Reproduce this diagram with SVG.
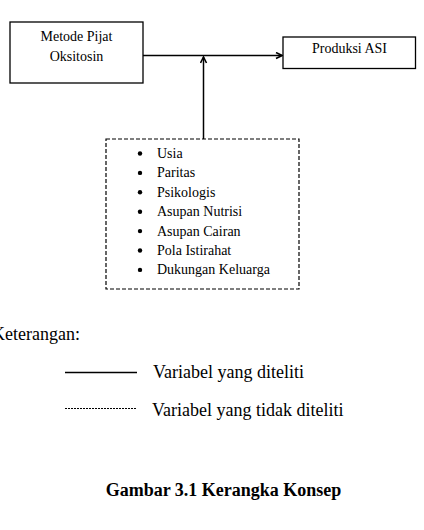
<svg xmlns="http://www.w3.org/2000/svg" width="424" height="530" viewBox="0 0 424 530">
  <defs>
    <style>
      .box { fill: #ffffff; stroke: #000000; stroke-width: 1.3; }
      .dbox { fill: #ffffff; stroke: #000000; stroke-width: 1.2; stroke-dasharray: 4 2; }
      .node-text { font-family: "Liberation Serif", "Times New Roman", serif; font-size: 14px; fill: #000000; }
      .legend-text { font-family: "Liberation Serif", "Times New Roman", serif; font-size: 18px; fill: #000000; }
      .title { font-family: "Liberation Serif", "Times New Roman", serif; font-size: 18px; font-weight: bold; fill: #000000; }
      .conn { stroke: #000000; stroke-width: 1.5; fill: none; }
      .bullet { fill: #000000; }
    </style>
    <marker id="arrow" viewBox="0 0 8 8" refX="7" refY="4" markerWidth="8" markerHeight="8" markerUnits="userSpaceOnUse" orient="auto">
      <path d="M1,1 L7,4 L1,7" fill="none" stroke="#000000" stroke-width="1.6"/>
    </marker>
  </defs>
  <rect width="424" height="530" fill="#ffffff"/>

  <g id="connectors">
    <line class="conn" x1="143" y1="55.5" x2="282" y2="55.5" marker-end="url(#arrow)"/>
    <line class="conn" x1="203.5" y1="139" x2="203.5" y2="57" marker-end="url(#arrow)"/>
  </g>

  <g id="node-metode">
    <rect class="box" x="10" y="22" width="133" height="61"/>
    <text class="node-text" x="76.5" y="41" text-anchor="middle">Metode Pijat</text>
    <text class="node-text" x="76.5" y="61" text-anchor="middle">Oksitosin</text>
  </g>

  <g id="node-produksi">
    <rect class="box" x="283" y="37" width="132.5" height="31.5"/>
    <text class="node-text" x="349.5" y="53" text-anchor="middle">Produksi ASI</text>
  </g>

  <g id="node-faktor">
    <rect class="dbox" x="106" y="139" width="193" height="150"/>
    <g class="node-text">
      <circle class="bullet" cx="140" cy="153.5" r="2.2"/>
      <text x="157" y="158">Usia</text>
      <circle class="bullet" cx="140" cy="172.9" r="2.2"/>
      <text x="157" y="177.4">Paritas</text>
      <circle class="bullet" cx="140" cy="192.3" r="2.2"/>
      <text x="157" y="196.8">Psikologis</text>
      <circle class="bullet" cx="140" cy="211.7" r="2.2"/>
      <text x="157" y="216.2">Asupan Nutrisi</text>
      <circle class="bullet" cx="140" cy="231.1" r="2.2"/>
      <text x="157" y="235.6">Asupan Cairan</text>
      <circle class="bullet" cx="140" cy="250.5" r="2.2"/>
      <text x="157" y="255">Pola Istirahat</text>
      <circle class="bullet" cx="140" cy="269.9" r="2.2"/>
      <text x="157" y="274.4">Dukungan Keluarga</text>
    </g>
  </g>

  <g id="legend">
    <text class="legend-text" x="-8" y="340">Keterangan:</text>
    <line x1="65" y1="372.5" x2="137" y2="372.5" stroke="#000000" stroke-width="1.3"/>
    <text class="legend-text" x="153" y="377.5">Variabel yang diteliti</text>
    <line x1="65" y1="408.5" x2="136" y2="408.5" stroke="#000000" stroke-width="1" stroke-dasharray="2 1"/>
    <text class="legend-text" x="152" y="415.5">Variabel yang tidak diteliti</text>
  </g>

  <g id="caption">
    <text class="title" x="223.5" y="496" text-anchor="middle">Gambar 3.1 Kerangka Konsep</text>
  </g>
</svg>
